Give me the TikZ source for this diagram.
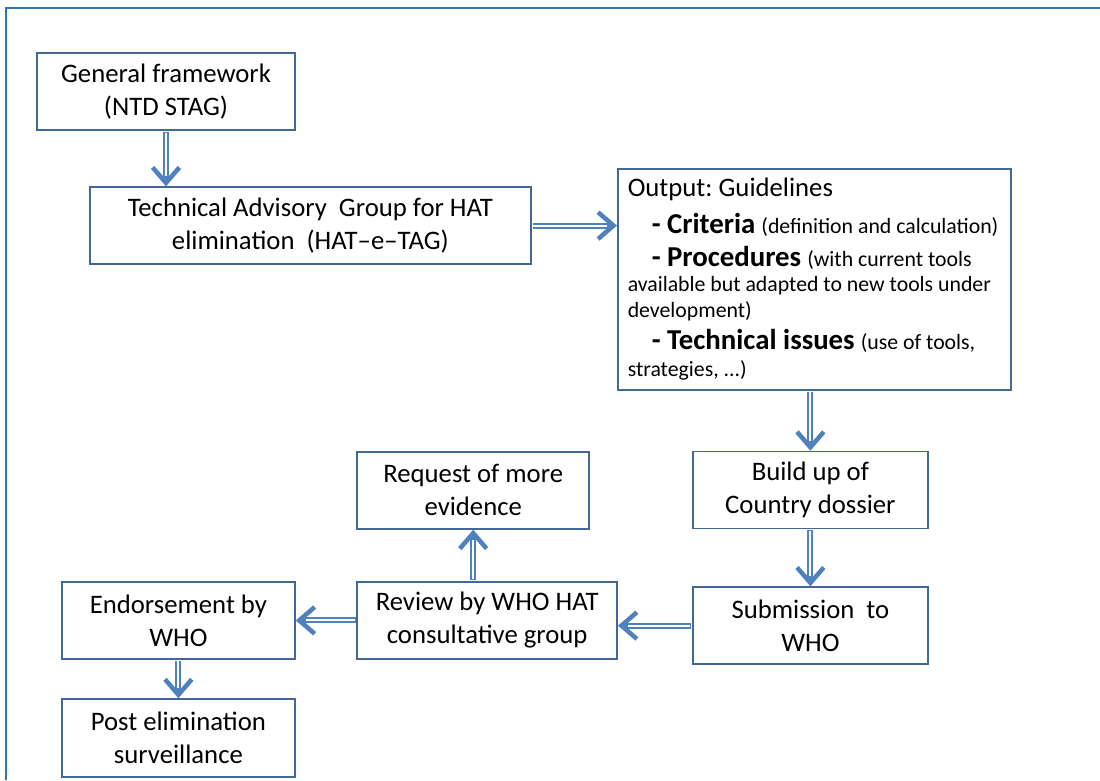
\documentclass[tikz,border=0pt]{standalone}
\usepackage{fontspec}
\setmainfont{Carlito}
\usetikzlibrary{arrows.meta,positioning}
\definecolor{boxblue}{RGB}{66,104,152}
\definecolor{arrowblue}{RGB}{79,129,189}
\definecolor{frameblue}{RGB}{46,117,182}
\frenchspacing
\newcommand{\hatkey}[1]{{\fontsize{20.5}{21}\selectfont\bfseries #1}}
\newcommand{\hatnote}[2][15.5]{{\fontsize{#1}{21}\selectfont\mbox{#2}}}
\tikzset{%
	stage/.style    = {draw=boxblue, line width=1.1pt, rectangle, minimum height=1.925cm, align=center, inner sep=2pt, font=\fontsize{19}{23.5}\selectfont},
	dblarrow/.style = {draw=arrowblue, line width=4.3pt, shorten <=0.6pt, -{Straight Barb[length=11pt, width=19pt, line width=3.2pt]},
		postaction={draw=white, line width=1.5pt, -, shorten <=1.2pt, shorten >=7pt}},
}
\begin{document}
\begin{tikzpicture}
	\useasboundingbox (0,0) rectangle (27.5,-19.5);
	\draw[frameblue, line width=2pt] (27.5,-0.2) -- (0.15,-0.2) -- (0.15,-19.5);
	% boxes
	\node[stage, minimum width=6.45cm] (frame) at (4.15,-2.29) {General framework\\(NTD STAG)};
	\node[stage, minimum width=11.03cm] (tag) at (7.76,-5.64) {Technical Advisory\ \ Group for HAT\\elimination\ \ (HAT--e--TAG)};
	\node[stage, minimum width=9.83cm, minimum height=5.53cm, text width=9.33cm, inner xsep=0.25cm, align=flush left, anchor=north west] (output) at (15.425,-4.2) {%
		Output: Guidelines\\[2.7pt]
		\hspace*{0.6cm}\hatkey{- Criteria}~\hatnote{(definition and calculation)}\\[0pt]
		\hspace*{0.6cm}\hatkey{- Procedures}~\hatnote{(with current tools}\\[-6pt]
		\hatnote{available but adapted to new tools under}\\[-5pt]
		\hatnote{development)}\\[-0.5pt]
		\hspace*{0.6cm}\hatkey{- Technical issues}~\hatnote{(use of tools,}\\[-4.3pt]
		\hatnote{strategies, ...)}};
	\node[stage, minimum width=5.88cm] (dossier) at (20.26,-12.25) {Build up of\\Country dossier};
	\node[stage, minimum width=5.88cm] (submit) at (20.26,-15.64) {Submission\ \ to\\WHO};
	\node[stage, minimum width=6.5cm] (review) at (12.18,-15.51) {Review by WHO HAT\\consultative group};
	\node[stage, minimum width=5.8cm] (request) at (11.83,-12.26) {Request of more\\evidence};
	\node[stage, minimum width=5.83cm] (endorse) at (4.46,-15.51) {Endorsement by\\WHO};
	\node[stage, minimum width=5.83cm, minimum height=1.95cm] (post) at (4.46,-18.45) {Post elimination\\surveillance};
	% arrows
	\draw[dblarrow] (frame.south) -- (frame.south |- tag.north);
	\draw[dblarrow] (tag.east) -- (tag.east -| output.west);
	\draw[dblarrow] (dossier.north |- output.south) -- (dossier.north);
	\draw[dblarrow] (dossier.south) -- (submit.north);
	\draw[dblarrow] (submit.west) -- (submit.west -| review.east);
	\draw[dblarrow] (review.north -| request) -- (request.south);
	\draw[dblarrow] (review.west) -- (endorse.east);
	\draw[dblarrow] (endorse.south) -- (post.north);
\end{tikzpicture}
\end{document}
